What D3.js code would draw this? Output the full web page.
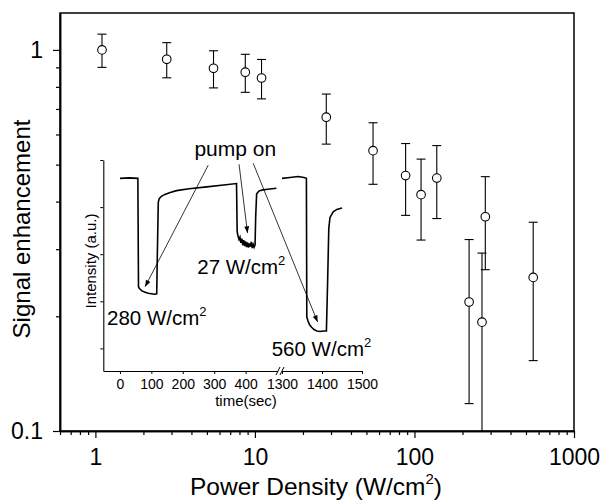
<!DOCTYPE html>
<html>
<head>
<meta charset="utf-8">
<style>
  body {margin: 0; background: #fff;}
  svg {font-family: "Liberation Sans", Arial, sans-serif;}
</style>
<script src="https://d3js.org/d3.v7.min.js"></script>
</head>
<body>
<div id="chart"></div>
<script>
  const width = 603
  const height = 502

  // main data: signal enhancement vs pump power density
  const power = [1.1, 2.8, 5.5, 8.7, 11, 28, 55, 88, 110, 138, 220, 265, 278, 555]
  const enhancement = [1.0, 0.945, 0.895, 0.874, 0.844, 0.666, 0.544, 0.468, 0.417, 0.461, 0.218, 0.193, 0.365, 0.253]
  const errors = [0.1, 0.1, 0.1, 0.1, 0.1, 0.1, 0.1, 0.1, 0.1, 0.1, 0.1, 0.1, 0.1, 0.1]
  const xMajor = [1, 10, 100, 1000]
  const yMajor = [0.1, 1]

  // inset traces (time in sec, intensity in a.u.)
  const timeLeft = [0, 30, 57, 59, 62, 70, 80, 90, 100, 110, 117, 119, 122, 125, 132, 143, 160, 180, 220, 276, 330, 371,
    373, 376, 379, 382, 385, 388, 391, 394, 397, 400, 403, 406, 409, 412, 415, 418, 421, 424, 427, 430,
    432, 435, 442, 451, 470, 498]
  const intensityLeft = [4.61, 4.62, 4.61, 2.31, 2.27, 2.22, 2.19, 2.17, 2.16, 2.15, 2.16, 3.0, 4.10, 4.18, 4.23, 4.27, 4.31, 4.35, 4.39, 4.43, 4.47, 4.50,
    3.48, 3.38, 3.31, 3.36, 3.24, 3.33, 3.19, 3.30, 3.17, 3.27, 3.15, 3.25, 3.14, 3.23, 3.16, 3.26, 3.13, 3.21, 3.15, 3.20,
    3.8, 4.28, 4.34, 4.36, 4.38, 4.40]
  const timeRight = [1300, 1320, 1340, 1355, 1361, 1362, 1365, 1369, 1374, 1380, 1387, 1395, 1403, 1411, 1414, 1417, 1420, 1428, 1437, 1450]
  const intensityRight = [4.61, 4.63, 4.65, 4.63, 4.61, 1.67, 1.58, 1.50, 1.45, 1.40, 1.37, 1.36, 1.37, 1.37, 2.4, 3.55, 3.78, 3.90, 3.95, 3.98]
  const insetTicks = [0, 100, 200, 300, 400, 1300, 1400, 1500]
  const insetYTicks = [1, 2, 3, 4, 5]

  // annotation arrows: [t0, v0, t1, v1]
  const arrows = [
    [281, 4.89, 80, 2.31],
    [379, 4.91, 406, 3.45],
    [424, 4.93, 1389, 1.56]
  ]

  const svg = d3.select('#chart').append('svg')
    .attr('width', width)
    .attr('height', height)

  svg.append('defs').append('marker')
    .attr('id', 'head')
    .attr('viewBox', '0 -3 8 6')
    .attr('refX', 8)
    .attr('refY', 0)
    .attr('markerWidth', 8)
    .attr('markerHeight', 5)
    .attr('markerUnits', 'userSpaceOnUse')
    .attr('orient', 'auto')
    .append('path')
    .attr('d', 'M0,-3L8,0L0,3Z')
    .attr('fill', '#000')

  svg.select('defs').append('clipPath')
    .attr('id', 'plotclip')
    .append('rect')
    .attr('x', 60).attr('y', 13).attr('width', 514).attr('height', 418)

  const x = d3.scaleLog().domain([0.6, 1000]).range([60, 574])
  const y = d3.scaleLog().domain([0.1, 1.25]).range([431, 13])

  // minor ticks
  const xMinor = []
  ;[0.1, 1, 10, 100].forEach(d => { for (let k = 2; k < 10; k++) { const v = d * k; if (v > 0.6 && v < 1000) xMinor.push(v) } })
  const yMinor = []
  for (let k = 2; k < 10; k++) yMinor.push(k / 10)

  const axisStyle = g => {
    g.select('.domain').attr('stroke', '#000').attr('stroke-width', 1.5)
    g.selectAll('.tick line').attr('stroke', '#000').attr('stroke-width', 1.2)
  }

  svg.append('g')
    .attr('transform', 'translate(0,431)')
    .call(d3.axisBottom(x).tickValues(xMinor).tickSize(4).tickSizeOuter(0).tickFormat(''))
    .call(axisStyle)
  svg.append('g')
    .attr('transform', 'translate(0,431)')
    .call(d3.axisBottom(x).tickValues(xMajor).tickSize(7).tickSizeOuter(0).tickPadding(11).tickFormat(d3.format('d')))
    .call(axisStyle)
    .selectAll('text').attr('font-size', 23).attr('font-family', null).attr('fill', '#000')

  svg.append('g')
    .attr('transform', 'translate(60,0)')
    .call(d3.axisLeft(y).tickValues(yMinor).tickSize(4).tickSizeOuter(0).tickFormat(''))
    .call(axisStyle)
  svg.append('g')
    .attr('transform', 'translate(60,0)')
    .call(d3.axisLeft(y).tickValues(yMajor).tickSize(7).tickSizeOuter(0).tickPadding(10).tickFormat(d => d))
    .call(axisStyle)
    .selectAll('text').attr('font-size', 23).attr('font-family', null).attr('fill', '#000')

  svg.append('rect')
    .attr('x', 60).attr('y', 13).attr('width', 514).attr('height', 418)
    .attr('fill', 'none').attr('stroke', '#000').attr('stroke-width', 1.5)

  // titles
  const xt = svg.append('text')
    .attr('x', 316).attr('y', 495)
    .attr('text-anchor', 'middle')
    .attr('font-size', 24.5)
    .text('Power Density (W/cm')
  xt.append('tspan').attr('font-size', 15).attr('dy', -11).text('2')
  xt.append('tspan').attr('dy', 11).text(')')

  svg.append('text')
    .attr('transform', 'translate(30,229) rotate(-90)')
    .attr('text-anchor', 'middle')
    .attr('font-size', 24)
    .text('Signal enhancement')

  // data points with error bars
  const pts = power.map((p, i) => ({p: p, v: enhancement[i], e: errors[i]}))
  const bars = svg.append('g').attr('clip-path', 'url(#plotclip)')
  bars.selectAll('line.bar').data(pts).enter().append('line')
    .attr('x1', d => x(d.p)).attr('x2', d => x(d.p))
    .attr('y1', d => y(d.v + d.e)).attr('y2', d => y(d.v - d.e))
    .attr('stroke', '#000').attr('stroke-width', 1.1)
  bars.selectAll('line.cap').data(pts.flatMap(d => [d.v + d.e, d.v - d.e].map(v => ({p: d.p, v: v}))))
    .enter().append('line')
    .attr('x1', d => x(d.p) - 4.5).attr('x2', d => x(d.p) + 4.5)
    .attr('y1', d => y(d.v)).attr('y2', d => y(d.v))
    .attr('stroke', '#000').attr('stroke-width', 1.1)
  svg.append('g').selectAll('circle').data(pts).enter().append('circle')
    .attr('cx', d => x(d.p)).attr('cy', d => y(d.v))
    .attr('r', 4.3)
    .attr('fill', '#fff').attr('stroke', '#000').attr('stroke-width', 1.1)

  // inset
  const xIn = d3.scaleLinear().domain([-53, 503, 1300, 1500]).range([103.3, 278, 282, 362])
  const yIn = d3.scaleLinear().domain([0.52, 5]).range([371, 160])

  const inset = svg.append('g')

  inset.append('g')
    .attr('transform', 'translate(0,371)')
    .call(d3.axisBottom(xIn).tickValues(insetTicks).tickSize(3).tickSizeOuter(0).tickPadding(5).tickFormat(d3.format('d')))
    .call(g => {
      g.select('.domain').attr('stroke', '#000').attr('stroke-width', 1.1)
      g.selectAll('.tick line').attr('stroke', '#000')
      g.selectAll('text').attr('font-size', 14).attr('font-family', null).attr('fill', '#000')
    })
  inset.append('g')
    .attr('transform', 'translate(103.3,0)')
    .call(d3.axisLeft(yIn).tickValues(insetYTicks).tickSize(3).tickSizeOuter(0).tickFormat(''))
    .call(g => {
      g.select('.domain').attr('stroke', '#000').attr('stroke-width', 1.1)
      g.selectAll('.tick line').attr('stroke', '#000')
    })

  // axis break
  inset.append('rect').attr('x', 278).attr('y', 369).attr('width', 4).attr('height', 4).attr('fill', '#fff')
  inset.selectAll('line.brk').data([276, 280]).enter().append('line')
    .attr('x1', d => d).attr('x2', d => d + 4)
    .attr('y1', 375).attr('y2', 367)
    .attr('stroke', '#000').attr('stroke-width', 1)

  const line = d3.line().x(d => xIn(d[0])).y(d => yIn(d[1]))
  inset.append('path')
    .datum(timeLeft.map((t, i) => [t, intensityLeft[i]]))
    .attr('d', line)
    .attr('fill', 'none').attr('stroke', '#000').attr('stroke-width', 1.6)
  inset.append('path')
    .datum(timeRight.map((t, i) => [t, intensityRight[i]]))
    .attr('d', line)
    .attr('fill', 'none').attr('stroke', '#000').attr('stroke-width', 1.6)

  inset.selectAll('line.arrow').data(arrows).enter().append('line')
    .attr('x1', d => xIn(d[0])).attr('y1', d => yIn(d[1]))
    .attr('x2', d => xIn(d[2])).attr('y2', d => yIn(d[3]))
    .attr('stroke', '#000').attr('stroke-width', 0.8)
    .attr('marker-end', 'url(#head)')

  inset.append('text')
    .attr('x', xIn(367)).attr('y', yIn(5.08))
    .attr('text-anchor', 'middle')
    .attr('font-size', 21)
    .text('pump on')

  const labels = [
    {t: -41, v: 1.49, s: '280 W/cm'},
    {t: 246, v: 2.59, s: '27 W/cm'},
    {t: 483, v: 0.84, s: '560 W/cm'}
  ]
  labels.forEach(l => {
    const tx = inset.append('text')
      .attr('x', xIn(l.t)).attr('y', yIn(l.v))
      .attr('font-size', 20.5)
      .text(l.s)
    tx.append('tspan').attr('font-size', 13).attr('dy', -9).text('2')
  })

  inset.append('text')
    .attr('x', 246).attr('y', 406)
    .attr('text-anchor', 'middle')
    .attr('font-size', 15)
    .text('time(sec)')

  inset.append('text')
    .attr('transform', 'translate(96,261) rotate(-90)')
    .attr('text-anchor', 'middle')
    .attr('font-size', 15)
    .text('Intensity (a.u.)')
</script>
</body>
</html>
